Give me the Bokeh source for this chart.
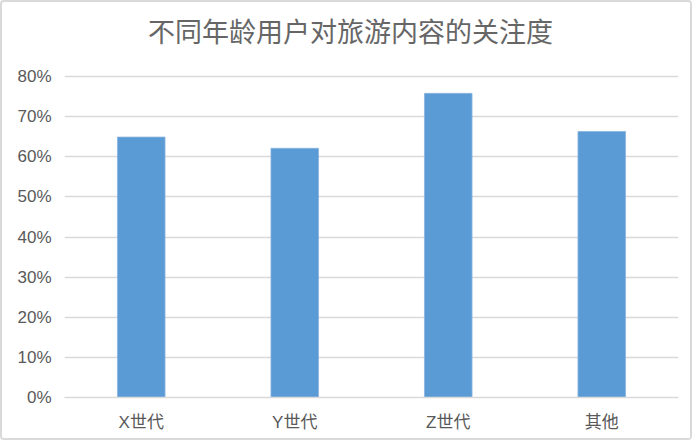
from bokeh.plotting import figure
from bokeh.models import FixedTicker, NumeralTickFormatter, FactorRange, Range1d, ColumnDataSource
from bokeh.core.properties import value
from bokeh.embed import file_html
from bokeh.resources import INLINE

title_text = "不同年龄用户对旅游内容的关注度"
categories = ["X世代", "Y世代", "Z世代", "其他"]
values = [0.649, 0.621, 0.758, 0.663]
y_ticks = [0.0, 0.1, 0.2, 0.3, 0.4, 0.5, 0.6, 0.7, 0.8]

GRAY_TEXT = "#595959"
GRID = "#d9d9d9"
BAR = "#5b9bd5"

# layout in pixels
W, H = 692, 440
B_LEFT, B_RIGHT, B_TOP, B_BOTTOM = 62, 16, 4, 45
AXIS_TOP_PX = 74          # pixel row of the top tick (80%)
TITLE_PX_X, TITLE_PX_Y = 348, 28
AXIS_MAX = max(y_ticks)

plot_bottom_px = H - B_BOTTOM
px_per_unit = (plot_bottom_px - AXIS_TOP_PX) / AXIS_MAX
y_top = AXIS_MAX + (AXIS_TOP_PX - B_TOP) / px_per_unit

p = figure(
    x_range=FactorRange(*categories, range_padding=0),
    y_range=Range1d(0, y_top),
    width=W, height=H,
    output_backend="svg", toolbar_location=None,
    min_border_left=B_LEFT, min_border_right=B_RIGHT,
    min_border_top=B_TOP, min_border_bottom=B_BOTTOM,
)

p.vbar(x=categories, top=values, width=0.31, fill_color=BAR, line_color="#8ab4e0", line_width=0.8)

# chart title, drawn inside the (extended) plotting area
frame_w = W - B_LEFT - B_RIGHT
title_src = ColumnDataSource(dict(
    x=[(TITLE_PX_X - B_LEFT) / frame_w * len(categories)],
    y=[AXIS_MAX + (AXIS_TOP_PX - TITLE_PX_Y) / px_per_unit],
    t=[title_text],
))
p.text(x="x", y="y", text="t", source=title_src,
       text_align="center", text_baseline="middle",
       text_font=value("Noto Sans CJK SC"), text_font_size="27px",
       text_color="#666666")

p.yaxis.ticker = FixedTicker(ticks=y_ticks)
p.yaxis.formatter = NumeralTickFormatter(format="0%")
p.yaxis.axis_line_color = None
p.yaxis.major_tick_line_color = None
p.yaxis.minor_tick_line_color = None
p.yaxis.major_tick_out = 0
p.yaxis.major_tick_in = 0
p.yaxis.major_label_text_font = "Liberation Sans"
p.yaxis.major_label_text_font_size = "17px"
p.yaxis.major_label_text_color = GRAY_TEXT
p.yaxis.major_label_standoff = 13

p.xaxis.axis_line_color = GRID
p.xaxis.axis_line_width = 1.5
p.xaxis.major_tick_line_color = None
p.xaxis.minor_tick_line_color = None
p.xaxis.major_tick_out = 0
p.xaxis.major_tick_in = 0
p.xaxis.major_label_text_font = "Liberation Sans, 'Noto Sans CJK SC'"
p.xaxis.major_label_text_font_size = "17px"
p.xaxis.major_label_text_color = GRAY_TEXT
p.xaxis.major_label_standoff = 15

p.xgrid.grid_line_color = None
p.ygrid.grid_line_color = GRID
p.ygrid.grid_line_width = 1.5
p.ygrid.ticker = FixedTicker(ticks=y_ticks)

p.outline_line_color = None
p.background_fill_color = "white"
p.border_fill_color = "white"
p.styles = {"border": "2px solid #d9d9d9", "border-radius": "4px"}

open("out.html", "w").write(file_html(p, INLINE))
